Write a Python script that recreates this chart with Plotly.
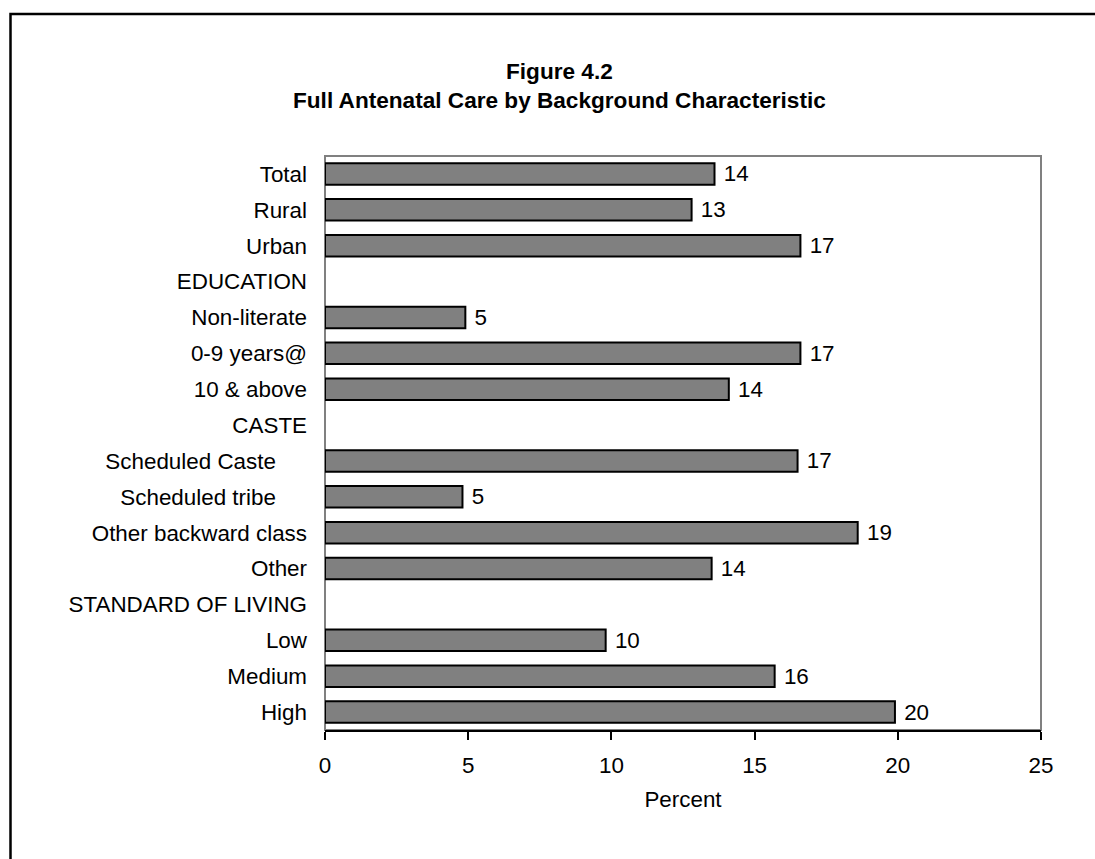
import plotly.graph_objects as go

# Row labels, top to bottom (group headings carry no bar)
categories = [
    "Total", "Rural", "Urban",
    "EDUCATION", "Non-literate", "0-9 years@", "10 & above",
    "CASTE", "Scheduled Caste", "Scheduled tribe", "Other backward class", "Other",
    "STANDARD OF LIVING", "Low", "Medium", "High",
]
# Percent of women receiving full antenatal care
percent = [
    13.6, 12.8, 16.6,
    None, 4.9, 16.6, 14.1,
    None, 16.5, 4.8, 18.6, 13.5,
    None, 9.8, 15.7, 19.9,
]
x_ticks = [0, 5, 10, 15, 20, 25]

W, H = 1095, 859
ML, MR, MT, MB = 325, 54, 156, 129
FONT = "Liberation Sans, Arial, sans-serif"
FS = 22.4

pw = W - ML - MR
ph = H - MT - MB


def px_x(p):
    return (p - ML) / pw


def px_y(p):
    return (H - MB - p) / ph


tick_text = [c + ("\u00a0" * 5 if c.startswith("Scheduled") else "") for c in categories]

fig = go.Figure(
    go.Bar(
        y=categories,
        x=percent,
        orientation="h",
        marker=dict(color="#808080", line=dict(color="#000000", width=2)),
        texttemplate="\u00a0%{x:.0f}",
        textposition="outside",
        constraintext="none",
        textfont=dict(family=FONT, size=FS, color="#000000"),
        cliponaxis=False,
        hoverinfo="skip",
    )
)

fig.update_layout(
    width=W,
    height=H,
    margin=dict(l=ML, r=MR, t=MT, b=MB, pad=0),
    paper_bgcolor="#ffffff",
    plot_bgcolor="#ffffff",
    bargap=0.4,
    showlegend=False,
    font=dict(family=FONT, size=FS, color="#000000"),
    xaxis=dict(
        range=[0, 25],
        tickvals=x_ticks,
        ticktext=[str(v) for v in x_ticks],
        showgrid=False,
        zeroline=False,
        showline=True,
        linecolor="#000000",
        linewidth=2,
        ticks="outside",
        ticklen=8,
        tickwidth=2,
        tickcolor="#000000",
        ticklabelstandoff=6,
        title=dict(text="Percent", standoff=14, font=dict(family=FONT, size=FS)),
    ),
    yaxis=dict(
        type="category",
        categoryarray=categories,
        tickvals=categories,
        ticktext=tick_text,
        range=[len(categories) - 0.5, -0.5],
        showgrid=False,
        zeroline=False,
        showline=False,
        ticks="",
        ticklabelstandoff=17,
    ),
    shapes=[
        # gray plot frame
        dict(type="rect", xref="paper", yref="paper", x0=0, x1=1, y0=0, y1=1,
             line=dict(color="#808080", width=2), layer="below"),
        # outer chart border
        dict(type="rect", xref="paper", yref="paper",
             x0=px_x(10.5), x1=px_x(1110), y0=px_y(880), y1=px_y(14),
             line=dict(color="#000000", width=2.5)),
    ],
    annotations=[
        dict(
            text="<b>Figure 4.2</b><br><b>Full Antenatal Care by Background Characteristic</b>",
            xref="paper", yref="paper",
            x=px_x(559.5), y=px_y(57),
            xanchor="center", yanchor="top",
            showarrow=False,
            align="center",
            font=dict(family=FONT, size=22.6, color="#000000"),
        )
    ],
)

fig.write_html("out.html")
